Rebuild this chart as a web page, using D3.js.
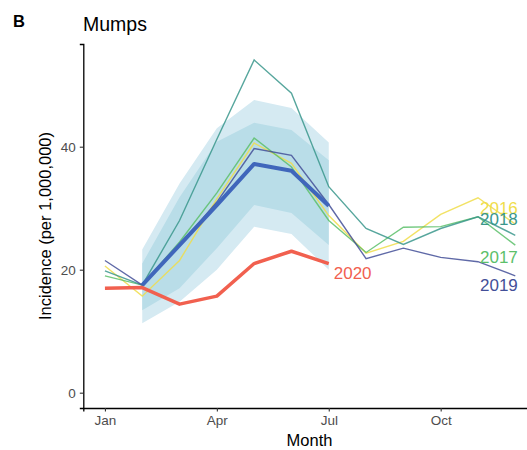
<!DOCTYPE html>
<html>
<head>
<meta charset="utf-8">
<script src="https://cdn.jsdelivr.net/npm/d3@7"></script>
<style>
  body { margin: 0; background: #fff; }
  svg { display: block; font-family: "Liberation Sans", Arial, sans-serif; }
</style>
</head>
<body>
<div id="chart"></div>
<script>
// month index 1..12
const months = [1, 2, 3, 4, 5, 6, 7, 8, 9, 10, 11, 12];
const tickMonths = [1, 4, 7, 10];
const tickLabels = ["Jan", "Apr", "Jul", "Oct"];
const yTicks = [0, 20, 40];

// incidence per year
const y2016 = [20.6, 15.7, 21.5, 31.5, 40.6, 37.3, 28.8, 22.7, 24.6, 29.0, 31.7, 27.4];
const y2017 = [19.0, 17.5, 24.5, 32.5, 41.4, 36.7, 28.0, 22.8, 26.9, 27.0, 28.6, 24.0];
const y2018 = [19.8, 17.5, 28.0, 41.2, 54.1, 48.7, 33.5, 26.7, 24.1, 26.7, 28.6, 25.6];
const y2019 = [21.5, 17.5, 24.0, 31.0, 39.7, 38.6, 30.6, 21.8, 23.5, 22.0, 21.3, 19.0];
const y2020 = [17.0, 17.1, 14.4, 15.7, 21.0, 23.0, 21.0];

// expected range Feb..Jul
const bandMonths = [2, 3, 4, 5, 6, 7];
const meanLine = [17.5, 24.0, 30.5, 37.2, 36.1, 30.4];
const outerLow = [11.3, 14.8, 20.0, 27.0, 25.8, 20.0];
const outerHigh = [23.3, 34.0, 43.0, 47.6, 46.3, 40.7];
const innerLow = [13.4, 17.0, 23.5, 30.5, 29.2, 24.0];
const innerHigh = [21.0, 31.8, 40.8, 43.9, 42.7, 37.8];

const years = [
  { name: "2016", values: y2016, color: "#f0dd4a", lx: 11, ly: 30.1 },
  { name: "2017", values: y2017, color: "#5cc06a", lx: 11, ly: 22.1 },
  { name: "2018", values: y2018, color: "#3a978c", lx: 11, ly: 28.3 },
  { name: "2019", values: y2019, color: "#434f98", lx: 11, ly: 17.6 }
];

const W = 527, H = 450;
const svg = d3.select("#chart").append("svg")
    .attr("width", W)
    .attr("height", H);

const x = d3.scaleLinear().domain([0.42, 12.55]).range([83.3, 535.8]);
const y = d3.scaleLinear().domain([-2.49, 56.7]).range([408, 44]);

// bands
const area = (lo, hi) => d3.area()
    .x((d, i) => x(bandMonths[i]))
    .y0((d, i) => y(lo[i]))
    .y1((d, i) => y(hi[i]));

svg.append("path")
    .datum(bandMonths)
    .attr("d", area(outerLow, outerHigh))
    .style("fill", "#d5eaf2");
svg.append("path")
    .datum(bandMonths)
    .attr("d", area(innerLow, innerHigh))
    .style("fill", "#b9dde8");

const line = d3.line()
    .x(d => x(d[0]))
    .y(d => y(d[1]));

years.forEach(function (yr) {
    svg.append("path")
        .datum(yr.values.map((v, i) => [months[i], v]))
        .attr("d", line)
        .style("fill", "none")
        .style("stroke", yr.color)
        .style("stroke-width", 1.4)
        .style("opacity", 0.85);
});

// mean
svg.append("path")
    .datum(meanLine.map((v, i) => [bandMonths[i], v]))
    .attr("d", line)
    .style("fill", "none")
    .style("stroke", "#3f66bb")
    .style("stroke-width", 4)
    .style("stroke-linejoin", "round");

// 2020
svg.append("path")
    .datum(y2020.map((v, i) => [months[i], v]))
    .attr("d", line)
    .style("fill", "none")
    .style("stroke", "#f1604f")
    .style("stroke-width", 3.5)
    .style("stroke-linejoin", "round");

// year labels
years.forEach(function (yr) {
    svg.append("text")
        .attr("x", x(yr.lx) + 2)
        .attr("y", y(yr.ly))
        .attr("dy", "0.36em")
        .style("font-size", "17px")
        .style("fill", yr.color)
        .text(yr.name);
});
svg.append("text")
    .attr("x", x(7) + 5)
    .attr("y", y(19.5))
    .attr("dy", "0.36em")
    .style("font-size", "17px")
    .style("fill", "#f1604f")
    .text("2020");

// axes
const xAxis = svg.append("g")
    .attr("transform", "translate(0,408)")
    .call(d3.axisBottom(x).tickValues(tickMonths)
        .tickFormat((d, i) => tickLabels[i]).tickSize(3.5).tickPadding(4));
const yAxis = svg.append("g")
    .attr("transform", "translate(83.3,0)")
    .call(d3.axisLeft(y).tickValues(yTicks).tickSize(3.5).tickPadding(4));

[xAxis, yAxis].forEach(function (g) {
    g.select(".domain").style("stroke", "#000").style("stroke-width", 1.3);
    g.selectAll(".tick line").style("stroke", "#333").style("stroke-width", 1.1);
    g.selectAll(".tick text")
        .style("font-size", "13.5px")
        .style("font-family", "Liberation Sans, Arial, sans-serif")
        .style("fill", "#4d4d4d");
});

svg.append("text")
    .attr("x", (83.3 + 535.8) / 2)
    .attr("y", 446)
    .attr("text-anchor", "middle")
    .style("font-size", "16.5px")
    .text("Month");

svg.append("text")
    .attr("transform", `translate(51,${(44 + 408) / 2}) rotate(-90)`)
    .attr("text-anchor", "middle")
    .style("font-size", "16.5px")
    .text("Incidence (per 1,000,000)");

svg.append("text")
    .attr("x", 83)
    .attr("y", 31)
    .style("font-size", "19.5px")
    .text("Mumps");

svg.append("text")
    .attr("x", 13)
    .attr("y", 26.5)
    .style("font-size", "16.5px")
    .style("font-weight", "bold")
    .text("B");
</script>
</body>
</html>
